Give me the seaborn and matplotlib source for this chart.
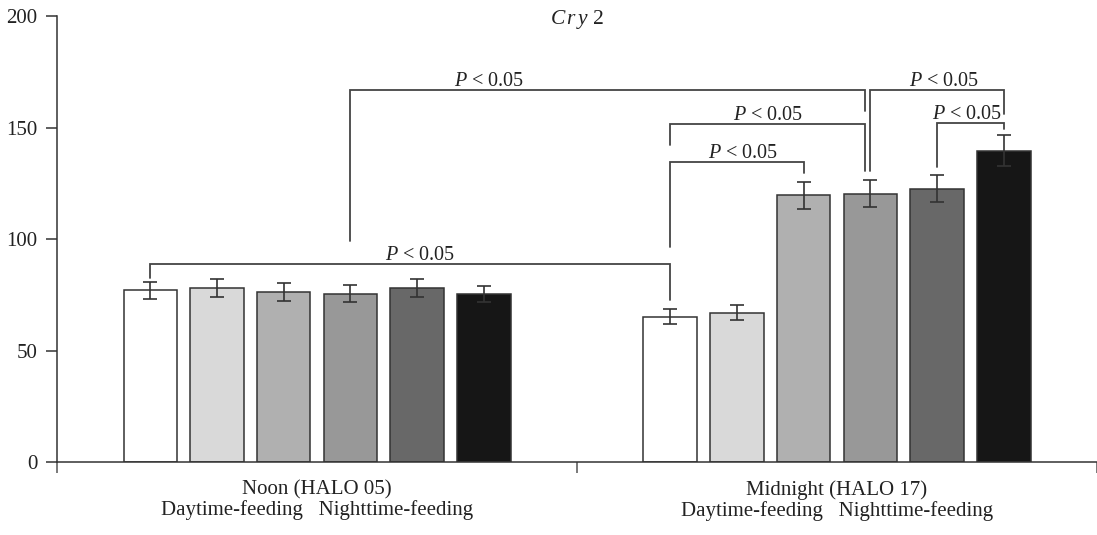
import numpy as np
import pandas as pd
import matplotlib
matplotlib.use("Agg")
import matplotlib.pyplot as plt
import seaborn as sns

# ---------------- data ----------------
times = ["Noon (HALO 05)\nDaytime-feeding   Nighttime-feeding",
         "Midnight (HALO 17)\nDaytime-feeding   Nighttime-feeding"]
groups = ["D1", "D2", "D3", "N1", "N2", "N3"]
noon_vals = [77.0, 78.2, 76.2, 75.4, 78.0, 75.4]
noon_err = [3.9, 4.0, 3.9, 3.8, 3.9, 3.7]
midnight_vals = [65.2, 67.0, 119.6, 120.4, 122.5, 139.6]
midnight_err = [3.3, 3.3, 6.0, 6.0, 6.0, 7.0]
colors = ["#ffffff", "#d9d9d9", "#b0b0b0", "#989898", "#686868", "#161616"]
title = r"$C\,r\,y$ 2"
sig_label = r"$P$ < 0.05"
# brackets: (left bar, right bar, top y, left end y, right end y, text pos fraction)
brackets = [
    (0, 6, 88.9, 82.3, 72.5, 0.52),
    (3, 9, 166.7, 99.3, 157.5, 0.27),
    (6, 9, 151.6, 142.3, 130.6, 0.5),
    (6, 8, 134.7, 96.6, 129.4, 0.55),
    (9, 11, 166.7, 130.6, 156.0, 0.55),
    (10, 11, 152.0, 132.4, 149.3, 0.45),
]
leg_shift = {(1, 9): -0.01, (2, 9): -0.01}

rows = []
for t, vals, errs in [(times[0], noon_vals, noon_err), (times[1], midnight_vals, midnight_err)]:
    for g, v, e in zip(groups, vals, errs):
        rows.append({"time": t, "group": g, "value": v, "err": e})
df = pd.DataFrame(rows)

# ---------------- plot ----------------
sns.set_style("white")
plt.rcParams["font.family"] = ["Liberation Serif", "DejaVu Serif"]
plt.rcParams["mathtext.fontset"] = "custom"
plt.rcParams["mathtext.it"] = "Liberation Serif:italic"
plt.rcParams["mathtext.rm"] = "Liberation Serif"
fig = plt.figure(figsize=(10.97, 5.35), dpi=100)
ax = fig.add_axes([0.052, 0.1364, 0.948, 0.8337])

sns.barplot(data=df, x="time", y="value", hue="group", hue_order=groups,
            palette=colors, width=0.77, gap=0.2, edgecolor="#333333",
            linewidth=1.1, errorbar=None, legend=False, ax=ax, saturation=1)

bars = [p for p in ax.patches if p.get_height() > 0]
bars = sorted(bars, key=lambda p: p.get_x())
centers = [p.get_x() + p.get_width() / 2 for p in bars]
heights = [p.get_height() for p in bars]
errs = noon_err + midnight_err
ax.errorbar(centers, heights, yerr=errs, fmt="none", ecolor="#333333",
            elinewidth=1.2, capsize=5, capthick=1.2, zorder=5)

lc = "#444444"
for i, (l, r, top, yl, yr, frac) in enumerate(brackets):
    xl = centers[l] + leg_shift.get((i, l), 0)
    xr = centers[r] + leg_shift.get((i, r), 0)
    ax.plot([xl, xl, xr, xr], [yl, top, top, yr], color=lc, lw=1.3,
            solid_joinstyle="miter", zorder=6, clip_on=False)
    xt = xl + (xr - xl) * frac
    ax.text(xt, top + 1.8, sig_label, ha="center", va="baseline",
            fontsize=14.5, color="#222222")

ax.text(0.5, 198.6, title, ha="center", va="center", fontsize=15.5,
        color="#222222")

ax.set_ylim(0, 200)
ax.set_xlim(-0.5, 1.5)
ax.set_yticks([0, 50, 100, 150, 200])
ax.tick_params(axis="y", direction="out", length=8, width=1.1, pad=6,
               labelsize=15, colors="#333333", labelcolor="#222222", left=True)
ax.set_xticks([-0.5, 0.5, 1.5])
ax.set_xticklabels([])
ax.tick_params(axis="x", which="major", direction="out", length=8, width=1.1,
               colors="#555555", bottom=True)
ax.set_xticks([0, 1], minor=True)
ax.set_xticklabels(times, minor=True, fontsize=15, color="#222222",
                   linespacing=1.08)
ax.tick_params(axis="x", which="minor", length=0, pad=13)
ax.set_xlabel("")
ax.set_ylabel("")

for s in ["top", "right"]:
    ax.spines[s].set_visible(False)
for s in ["left", "bottom"]:
    ax.spines[s].set_color("#333333")
    ax.spines[s].set_linewidth(1.1)
ax.spines["left"].set_bounds(0, 200)

fig.savefig("out.png", dpi=100)
